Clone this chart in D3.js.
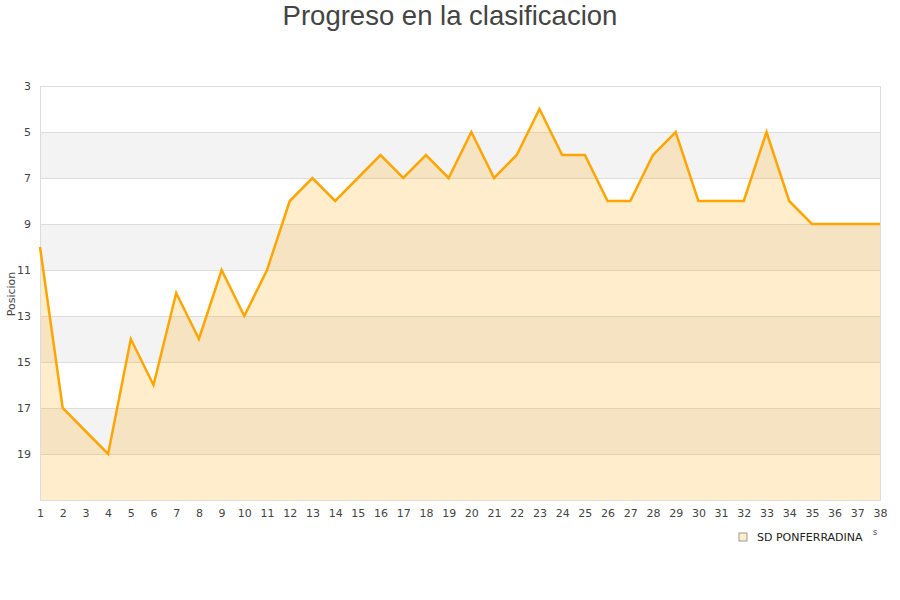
<!DOCTYPE html>
<html><head><meta charset="utf-8">
<script src="https://cdn.jsdelivr.net/npm/d3@7"></script>
<style>body{margin:0;background:#fff}svg{display:block}</style>
</head><body>
<svg id="c" width="900" height="600"></svg>
<script>
const jornadas = d3.range(1, 39);
const posiciones = [10,17,18,19,14,16,12,14,11,13,11,8,7,8,7,6,7,6,7,5,7,6,4,6,6,8,8,6,5,8,8,8,5,8,9,9,9,9];
const yTicks = [3,5,7,9,11,13,15,17,19];
const bands = [[5,7],[9,11],[13,15],[17,19]];
const titulo = "Progreso en la clasificacion";
const equipo = "SD PONFERRADINA";

const svg = d3.select("#c");
const L = 40, R = 880, T = 86, B = 500;
const x = d3.scaleLinear().domain([1, 38]).range([L, R]);
const y = d3.scaleLinear().domain([3, 21]).range([T, B]);

svg.append("text").attr("x", 450).attr("y", 25).attr("text-anchor", "middle")
  .attr("font-family", "Liberation Sans, Arial, sans-serif").attr("font-size", 27.5)
  .attr("fill", "#444").text(titulo);

svg.selectAll("rect.band").data(bands).join("rect")
  .attr("x", L).attr("width", R - L)
  .attr("y", d => y(d[0])).attr("height", d => y(d[1]) - y(d[0]))
  .attr("fill", "#f3f3f3");

svg.selectAll("line.grid").data(yTicks).join("line")
  .attr("x1", L).attr("x2", R).attr("y1", d => y(d)).attr("y2", d => y(d))
  .attr("stroke", "#dddddd").attr("stroke-width", 1).attr("shape-rendering", "crispEdges");

const area = d3.area().x((d, i) => x(jornadas[i])).y0(y(21)).y1(d => y(d));
svg.append("path").datum(posiciones).attr("d", area).attr("fill", "rgba(255,165,0,0.2)");

svg.append("rect").attr("x", L).attr("y", T).attr("width", R - L).attr("height", B - T)
  .attr("fill", "none").attr("stroke", "#dddddd").attr("shape-rendering", "crispEdges");

const line = d3.line().x((d, i) => x(jornadas[i])).y(d => y(d));
svg.append("path").datum(posiciones).attr("d", line).attr("fill", "none")
  .attr("stroke", "#ffa500").attr("stroke-width", 2.5).attr("stroke-linejoin", "miter");

const ya = d3.axisLeft(y).tickValues(yTicks).tickSize(0).tickPadding(9);
const gy = svg.append("g").attr("transform", `translate(${L},0)`).call(ya);
gy.select(".domain").remove();
gy.selectAll("text").attr("font-family", "DejaVu Sans, sans-serif").attr("font-size", 11).attr("fill", "#444");

const xa = d3.axisBottom(x).tickValues(jornadas).tickFormat(d3.format("d")).tickSize(0).tickPadding(9);
const gx = svg.append("g").attr("transform", `translate(0,${B})`).call(xa);
gx.select(".domain").remove();
gx.selectAll("text").attr("font-family", "DejaVu Sans, sans-serif").attr("font-size", 11).attr("fill", "#444");

svg.append("text").attr("transform", `translate(15,294) rotate(-90)`)
  .attr("text-anchor", "middle").attr("font-family", "DejaVu Sans, sans-serif")
  .attr("font-size", 11).attr("fill", "#444").text("Posicion");

svg.append("rect").attr("x", 739).attr("y", 533).attr("width", 8).attr("height", 8)
  .attr("fill", "rgba(255,165,0,0.2)").attr("stroke", "#999");
svg.append("text").attr("x", 757).attr("y", 541).attr("font-family", "DejaVu Sans, sans-serif")
  .attr("font-size", 11).attr("fill", "#222").text(equipo);
svg.append("text").attr("x", 873).attr("y", 535).attr("font-family", "DejaVu Sans, sans-serif")
  .attr("font-size", 8).attr("fill", "#444").text("s");
</script>
</body></html>
